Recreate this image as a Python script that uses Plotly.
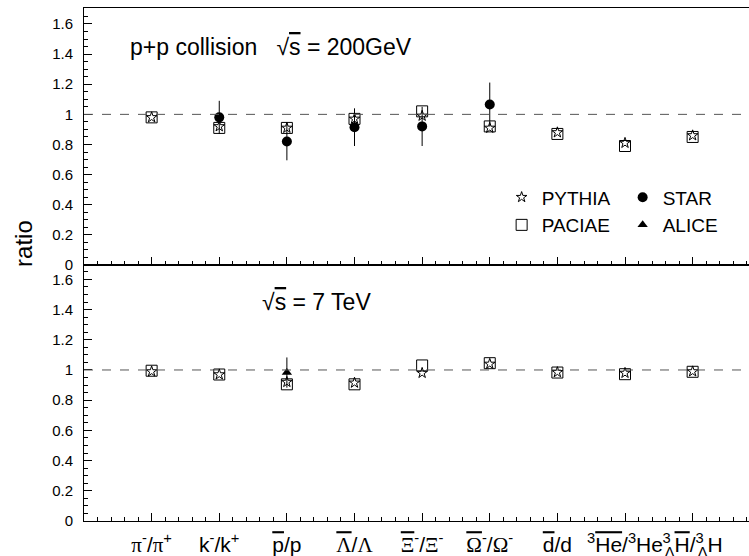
import plotly.graph_objects as go

# ---- data ----
OL = "<span style='text-decoration:overline'>{}</span>"
G = "<span style='font-family:Liberation Serif, Times New Roman, serif'>{}</span>"
TIGHT = "<sup><span style='letter-spacing:-6px'>3</span></sup>"
categories = [
    G.format("π") + "<sup>-</sup>/" + G.format("π") + "<sup>+</sup>",
    "k<sup>-</sup>/k<sup>+</sup>",
    OL.format("p") + "/p",
    OL.format(G.format("Λ")) + "/" + G.format("Λ"),
    OL.format(G.format("Ξ")) + "<sup>-</sup>/" + G.format("Ξ") + "<sup>-</sup>",
    OL.format(G.format("Ω")) + "<sup>-</sup>/" + G.format("Ω") + "<sup>-</sup>",
    OL.format("d") + "/d",
    "<sup>3</sup>" + OL.format("He") + "/<sup>3</sup>He",
    TIGHT + "<sub>Λ</sub>" + OL.format("H") + "/" + TIGHT + "<sub>Λ</sub>H",
]
xpos = list(range(1, len(categories) + 1))

pythia_200 = [0.98, 0.92, 0.91, 0.97, 0.99, 0.91, 0.88, 0.81, 0.86]
paciae_200 = [0.98, 0.91, 0.91, 0.97, 1.02, 0.92, 0.87, 0.79, 0.85]
star_200 = [None, 0.98, 0.82, 0.915, 0.92, 1.065, None, None, None]
star_200_err = [None, 0.11, 0.125, 0.125, 0.13, 0.146, None, None, None]

pythia_7 = [0.99, 0.97, 0.92, 0.915, 0.98, 1.04, 0.985, 0.98, 0.99]
paciae_7 = [0.995, 0.97, 0.905, 0.905, 1.03, 1.045, 0.983, 0.972, 0.988]
alice_7 = [None, None, 0.983, None, None, None, None, None, None]
alice_7_err = [None, None, 0.10, None, None, None, None, None, None]

FONT = "Liberation Sans, Arial, sans-serif"

fig = go.Figure()

sq = dict(symbol="square-open", size=11, color="black", line=dict(width=1, color="black"))
st = dict(symbol="star-open", size=8, color="black", line=dict(width=1, color="black"))

# top panel (200 GeV)
fig.add_trace(go.Scatter(x=xpos, y=paciae_200, mode="markers", marker=sq, name="PACIAE",
                         xaxis="x", yaxis="y", legend="legend", legendrank=2))
fig.add_trace(go.Scatter(x=xpos, y=pythia_200, mode="markers", marker=st, name="PYTHIA",
                         xaxis="x", yaxis="y", legend="legend", legendrank=1))
fig.add_trace(go.Scatter(x=xpos, y=star_200, mode="markers", name="STAR",
                         marker=dict(symbol="circle", size=10, color="black"),
                         error_y=dict(type="data", array=star_200_err, width=0, thickness=1, color="black"),
                         xaxis="x", yaxis="y", legend="legend2", legendrank=1))

# bottom panel (7 TeV)
fig.add_trace(go.Scatter(x=xpos, y=paciae_7, mode="markers", marker=sq, showlegend=False,
                         xaxis="x2", yaxis="y2"))
fig.add_trace(go.Scatter(x=xpos, y=pythia_7, mode="markers", marker=st, showlegend=False,
                         xaxis="x2", yaxis="y2"))
fig.add_trace(go.Scatter(x=xpos, y=alice_7, mode="markers", name="ALICE",
                         marker=dict(symbol="triangle-up", size=9, color="black"),
                         error_y=dict(type="data", array=alice_7_err, width=0, thickness=1, color="black"),
                         xaxis="x2", yaxis="y2", legend="legend2", legendrank=2))

# the frame continues past the right edge of the picture, as in the reference
xcommon = dict(range=[0, 10.144], showline=True, linecolor="black", linewidth=1, mirror=True,
               ticks="inside", ticklen=8, tickcolor="black", showgrid=False, zeroline=False,
               automargin=False,
               minor=dict(ticks="inside", ticklen=4, tickcolor="black", dtick=0.2, tick0=0, showgrid=False))
ycommon = dict(showline=True, linecolor="black", linewidth=1, ticks="inside", ticklen=8,
               tickcolor="black", dtick=0.2, tick0=0, showgrid=False, zeroline=False,
               automargin=False, mirror=False,
               tickfont=dict(family=FONT, size=15, color="black"), ticklabelstandoff=7,
               minor=dict(ticks="inside", ticklen=4, tickcolor="black", dtick=0.05, tick0=0, showgrid=False))

fig.update_layout(
    width=770, height=556,
    margin=dict(l=84, r=0, t=8, b=35),
    plot_bgcolor="white", paper_bgcolor="white",
    font=dict(family=FONT, color="black"),
    xaxis=dict(anchor="y", domain=[0, 1], showticklabels=False, tickmode="linear", tick0=0, dtick=1, **xcommon),
    xaxis2=dict(anchor="y2", domain=[0, 1], tickmode="array", tickvals=xpos, ticktext=categories,
                tickangle=0, ticklabelstandoff=5,
                tickfont=dict(family=FONT, size=21, color="black"), **xcommon),
    yaxis=dict(anchor="x", domain=[0.499, 1], range=[0, 1.706], **ycommon),
    yaxis2=dict(anchor="x2", domain=[0, 0.499], range=[0, 1.695], **ycommon),
    legend=dict(x=0.6088, y=0.668, xanchor="left", yanchor="top", bgcolor="rgba(0,0,0,0)",
                font=dict(family=FONT, size=19), itemwidth=30),
    legend2=dict(x=0.7852, y=0.668, xanchor="left", yanchor="top", bgcolor="rgba(0,0,0,0)",
                 font=dict(family=FONT, size=19), itemwidth=30),
    showlegend=True,
)

# reference lines at ratio = 1
for yref, xref in (("y", "x"), ("y2", "x2")):
    fig.add_shape(type="line", xref=f"{xref} domain", yref=yref, x0=0, x1=1, y0=1, y1=1,
                  line=dict(color="#555555", width=1, dash="dash"))

fig.add_annotation(text="ratio", xref="paper", yref="paper", x=-0.0875, y=0.542,
                   xanchor="center", yanchor="middle",
                   textangle=-90, showarrow=False, font=dict(family=FONT, size=24))
fig.add_annotation(text="p+p collision   √" + OL.format("s") + " = 200GeV", xref="paper", yref="paper",
                   x=0.0641, y=0.924, xanchor="left", yanchor="middle", showarrow=False,
                   font=dict(family=FONT, size=23))
fig.add_annotation(text="√" + OL.format("s") + " = 7 TeV", xref="paper", yref="paper",
                   x=0.2566, y=0.427, xanchor="left", yanchor="middle", showarrow=False,
                   font=dict(family=FONT, size=23))

fig.write_html("out.html", config={"displayModeBar": False},
               post_script="document.body.style.margin='0';document.body.style.overflow='hidden';")
